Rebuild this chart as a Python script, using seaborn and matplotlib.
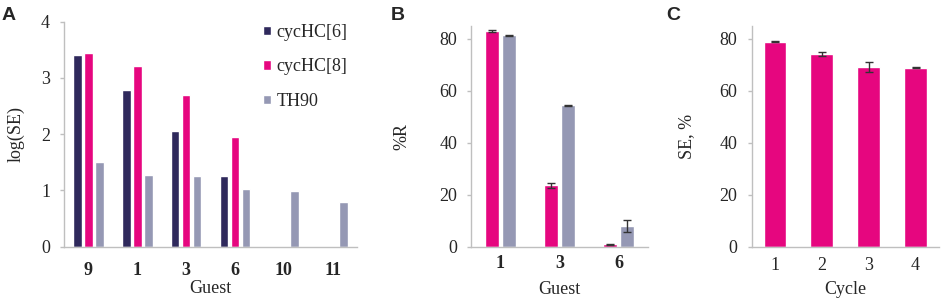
import pandas as pd
import matplotlib
matplotlib.use('Agg')
import matplotlib.pyplot as plt
import seaborn as sns

# Panel A: log(SE) per guest
guests_a = ['9', '1', '3', '6', '10', '11']
cyc6_a = [3.40, 2.79, 2.05, 1.26]
cyc8_a = [3.45, 3.21, 2.70, 1.94]
th90_a = [1.51, 1.27, 1.26, 1.02, 0.98, 0.79]

# Panel B: %R per guest
guests_b = ['1', '3', '6']
cyc8_b = [83.0, 23.6, 0.8]
cyc8_b_err = [0.3, 0.9, 0.3]
th90_b = [81.4, 54.5, 7.9]
th90_b_err = [0.2, 0.2, 2.3]

# Panel C: SE over cycles
cycles = ['1', '2', '3', '4']
se_c = [79.0, 74.2, 69.2, 69.0]
se_c_err = [0.3, 0.7, 1.8, 0.2]

series_names = ['cycHC[6]', 'cycHC[8]', 'TH90']
colors = {'cycHC[6]': '#2F295C', 'cycHC[8]': '#E6067F', 'TH90': '#9598B4'}

sns.set_style('white')
serif = ['Liberation Serif', 'DejaVu Serif']
plt.rcParams['font.family'] = serif
plt.rcParams['font.size'] = 13

axis_grey = '#BFBFBF'
err_col = '#333333'
FS = 13


def style_axis(ax, xpad):
    sns.despine(ax=ax)
    for side in ['left', 'bottom']:
        ax.spines[side].set_color(axis_grey)
        ax.spines[side].set_linewidth(1.0)
    ax.tick_params(axis='y', length=3, width=1, color=axis_grey,
                   labelsize=FS, pad=7, left=True)
    ax.tick_params(axis='x', length=0, labelsize=FS, pad=xpad)


def add_errors(ax, errs):
    for cont, err in zip(ax.containers, errs):
        for bar, e in zip(cont, err):
            xc = bar.get_x() + bar.get_width() / 2
            ax.errorbar(xc, bar.get_height(), yerr=e, fmt='none',
                        ecolor=err_col, elinewidth=1, capsize=3,
                        capthick=1, zorder=5)


rows_a = []
for g, v in zip(guests_a, cyc6_a):
    rows_a.append({'Guest': g, 'Host': 'cycHC[6]', 'val': v})
for g, v in zip(guests_a, cyc8_a):
    rows_a.append({'Guest': g, 'Host': 'cycHC[8]', 'val': v})
for g, v in zip(guests_a, th90_a):
    rows_a.append({'Guest': g, 'Host': 'TH90', 'val': v})
df_a = pd.DataFrame(rows_a)

rows_b = []
for g, v in zip(guests_b, cyc8_b):
    rows_b.append({'Guest': g, 'Host': 'cycHC[8]', 'val': v})
for g, v in zip(guests_b, th90_b):
    rows_b.append({'Guest': g, 'Host': 'TH90', 'val': v})
df_b = pd.DataFrame(rows_b)

df_c = pd.DataFrame({'Cycle': cycles, 'val': se_c})

fig = plt.figure(figsize=(9.41, 3.03), dpi=100)
ax1 = fig.add_axes([64 / 941, 56.5 / 303, 293 / 941, 224.8 / 303])
ax2 = fig.add_axes([471 / 941, 56.5 / 303, 177 / 941, 220.5 / 303])
ax3 = fig.add_axes([751.5 / 941, 56.5 / 303, 187.5 / 941, 220.5 / 303])

# A
sns.barplot(data=df_a, x='Guest', y='val', hue='Host', order=guests_a,
            hue_order=series_names, palette=colors, width=0.675, gap=0.22,
            errorbar=None, saturation=1, ax=ax1)
ax1.set_xlim(-0.5, 5.5)
ax1.set_ylim(0, 4)
ax1.set_yticks([0, 1, 2, 3, 4])
ax1.set_xlabel('Guest', fontsize=FS)
ax1.set_ylabel('log(SE)', fontsize=FS, labelpad=11.7)
style_axis(ax1, 11)
for t in ax1.get_xticklabels():
    t.set_fontweight('bold')
ax1.legend(loc='upper left', bbox_to_anchor=(0.679, 0.99), frameon=False,
           prop={'family': serif, 'size': FS}, handlelength=0.42,
           handleheight=0.42, handletextpad=0.32, labelspacing=0.97,
           borderaxespad=0.0, borderpad=0.0)
ax1.xaxis.set_label_coords(0.5, -0.15)

# B
sns.barplot(data=df_b, x='Guest', y='val', hue='Host', order=guests_b,
            hue_order=['cycHC[8]', 'TH90'], palette=colors, width=0.58,
            gap=0.2, errorbar=None, saturation=1, legend=False, ax=ax2)
add_errors(ax2, [cyc8_b_err, th90_b_err])
ax2.set_xlim(-0.5, 2.5)
ax2.set_ylim(0, 85)
ax2.set_yticks([0, 20, 40, 60, 80])
ax2.set_xlabel('Guest', fontsize=FS)
ax2.set_ylabel('%R', fontsize=FS, labelpad=20.8)
style_axis(ax2, 6.3)
for t in ax2.get_xticklabels():
    t.set_fontweight('bold')
ax2.xaxis.set_label_coords(0.5, -0.155)

# C
sns.barplot(data=df_c, x='Cycle', y='val', order=cycles, color=colors['cycHC[8]'],
            width=0.485, errorbar=None, saturation=1, ax=ax3)
add_errors(ax3, [se_c_err])
ax3.set_xlim(-0.5, 3.5)
ax3.set_ylim(0, 85)
ax3.set_yticks([0, 20, 40, 60, 80])
ax3.set_xlabel('Cycle', fontsize=FS)
ax3.set_ylabel('SE, %', fontsize=FS, labelpad=18)
style_axis(ax3, 7.7)
ax3.xaxis.set_label_coords(0.5, -0.155)

for lab, xp in zip(['A', 'B', 'C'], [2, 391, 666]):
    fig.text(xp / 941, 1 - 7 / 303, lab, fontsize=14, fontweight='bold',
             family='Liberation Sans', va='top', ha='left')

fig.savefig('out.png', dpi=100)
